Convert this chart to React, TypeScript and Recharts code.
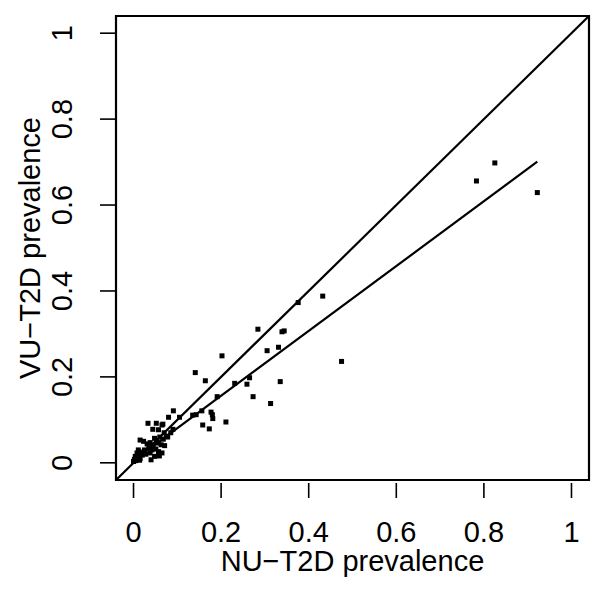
import React from "react";
import { Label, ReferenceArea, Scatter, ScatterChart, XAxis, YAxis } from "recharts";

// NU-T2D vs VU-T2D prevalence: scatter with identity line and fitted line.

const FONT = '"Liberation Sans", Arial, Helvetica, sans-serif';

const AXIS_TICKS = [0, 0.2, 0.4, 0.6, 0.8, 1];
const DOMAIN: [number, number] = [-0.04, 1.04];

// x values
const nuPrevalence = [
  0.825, 0.783, 0.922, 0.432, 0.376, 0.284, 0.339, 0.344, 0.305, 0.331,
  0.202, 0.475, 0.141, 0.164, 0.265, 0.259, 0.231, 0.335, 0.191, 0.273,
  0.313, 0.091, 0.080, 0.105, 0.135, 0.143, 0.156, 0.177, 0.180, 0.181,
  0.211, 0.158, 0.173, 0.033, 0.044, 0.052, 0.057, 0.067, 0.065, 0.015,
  0.023, 0.031, 0.038, 0.048, 0.057, 0.063, 0.071, 0.068, 0.075, 0.085,
  0.090, 0.051, 0.057, 0.038, 0.028, 0.011, 0.008, 0.004, 0.002, 0.000,
  0.005, 0.010, 0.015, 0.020, 0.025, 0.012, 0.018, 0.048, 0.065, 0.059,
  0.040, 0.078, 0.045, 0.053, 0.060, 0.070, 0.035, 0.042, 0.006, 0.014,
];

// y values
const vuPrevalence = [
  0.698, 0.656, 0.629, 0.388, 0.373, 0.311, 0.305, 0.307, 0.261, 0.269,
  0.249, 0.236, 0.210, 0.191, 0.198, 0.183, 0.185, 0.189, 0.154, 0.154,
  0.138, 0.121, 0.106, 0.106, 0.111, 0.112, 0.121, 0.118, 0.112, 0.103,
  0.095, 0.088, 0.079, 0.092, 0.078, 0.092, 0.077, 0.090, 0.088, 0.053,
  0.050, 0.044, 0.047, 0.057, 0.046, 0.042, 0.040, 0.055, 0.062, 0.070,
  0.078, 0.032, 0.026, 0.023, 0.020, 0.030, 0.023, 0.015, 0.008, 0.003,
  0.005, 0.012, 0.010, 0.018, 0.030, 0.020, 0.025, 0.015, 0.023, 0.016,
  0.007, 0.060, 0.038, 0.050, 0.060, 0.070, 0.035, 0.030, 0.010, 0.006,
];

// y = x, across the whole plot region
const identityX = [-0.04, 1.04];
const identityY = [-0.04, 1.04];

// fitted line, from min to max of x
const fitX = [0, 0.922];
const fitY = [0.005, 0.701];

const points = nuPrevalence.map((x, i) => ({ x, y: vuPrevalence[i] }));
const identityLine = identityX.map((x, i) => ({ x, y: identityY[i] }));
const fitLine = fitX.map((x, i) => ({ x, y: fitY[i] }));

const fmt = (v: number) => String(v);

function Square(props: any) {
  const { cx, cy } = props;
  if (cx == null || cy == null) return <g />;
  return <rect x={cx - 2.5} y={cy - 2.5} width={5} height={5} fill="#000" />;
}

const NoDot = () => <g />;

function XTick({ x, y, payload }: any) {
  return (
    <g>
      <line x1={x} x2={x} y1={y + 3} y2={y + 18} stroke="#000" strokeWidth={1.6} />
      <text x={x} y={y + 62} textAnchor="middle" fontSize={29} fontFamily={FONT} fill="#000">
        {fmt(payload.value)}
      </text>
    </g>
  );
}

function YTick({ x, y, payload }: any) {
  return (
    <g>
      <line x1={x - 16} x2={x} y1={y} y2={y} stroke="#000" strokeWidth={1.6} />
      <text
        x={x - 44}
        y={y}
        transform={`rotate(-90, ${x - 44}, ${y})`}
        textAnchor="middle"
        fontSize={29}
        fontFamily={FONT}
        fill="#000"
      >
        {fmt(payload.value)}
      </text>
    </g>
  );
}

function XTitle({ viewBox }: any) {
  const { x, y, width } = viewBox;
  return (
    <text x={x + width / 2} y={y + 91} textAnchor="middle" fontSize={29} fontFamily={FONT} fill="#000">
      NU−T2D prevalence
    </text>
  );
}

function YTitle({ viewBox }: any) {
  const { x, y, height } = viewBox;
  const tx = x + 40;
  const ty = y + height / 2;
  return (
    <text
      x={tx}
      y={ty}
      transform={`rotate(-90, ${tx}, ${ty})`}
      textAnchor="middle"
      fontSize={29}
      fontFamily={FONT}
      fill="#000"
    >
      VU−T2D prevalence
    </text>
  );
}

export default function App() {
  return (
    <div style={{ position: "absolute", left: 0, top: 0, background: "#fff" }}>
      <ScatterChart width={600} height={597} margin={{ top: 16, right: 11, bottom: 0, left: 0 }}>
        <XAxis
          type="number"
          dataKey="x"
          domain={DOMAIN}
          ticks={AXIS_TICKS}
          allowDataOverflow
          axisLine={false}
          tickLine={false}
          tickSize={0}
          tickMargin={0}
          height={117}
          tick={<XTick />}
          interval={0}
        >
          <Label content={<XTitle />} />
        </XAxis>
        <YAxis
          type="number"
          dataKey="y"
          domain={DOMAIN}
          ticks={AXIS_TICKS}
          allowDataOverflow
          axisLine={false}
          tickLine={false}
          tickSize={0}
          tickMargin={0}
          width={116}
          tick={<YTick />}
          interval={0}
        >
          <Label content={<YTitle />} />
        </YAxis>
        <Scatter
          data={identityLine}
          line={{ stroke: "#000", strokeWidth: 2.2 }}
          shape={NoDot}
          isAnimationActive={false}
        />
        <Scatter
          data={fitLine}
          line={{ stroke: "#000", strokeWidth: 2.2 }}
          shape={NoDot}
          isAnimationActive={false}
        />
        <Scatter data={points} shape={Square} isAnimationActive={false} />
        <ReferenceArea
          x1={DOMAIN[0]}
          x2={DOMAIN[1]}
          y1={DOMAIN[0]}
          y2={DOMAIN[1]}
          fill="none"
          fillOpacity={0}
          stroke="#000"
          strokeWidth={2.2}
          ifOverflow="visible"
        />
      </ScatterChart>
    </div>
  );
}
